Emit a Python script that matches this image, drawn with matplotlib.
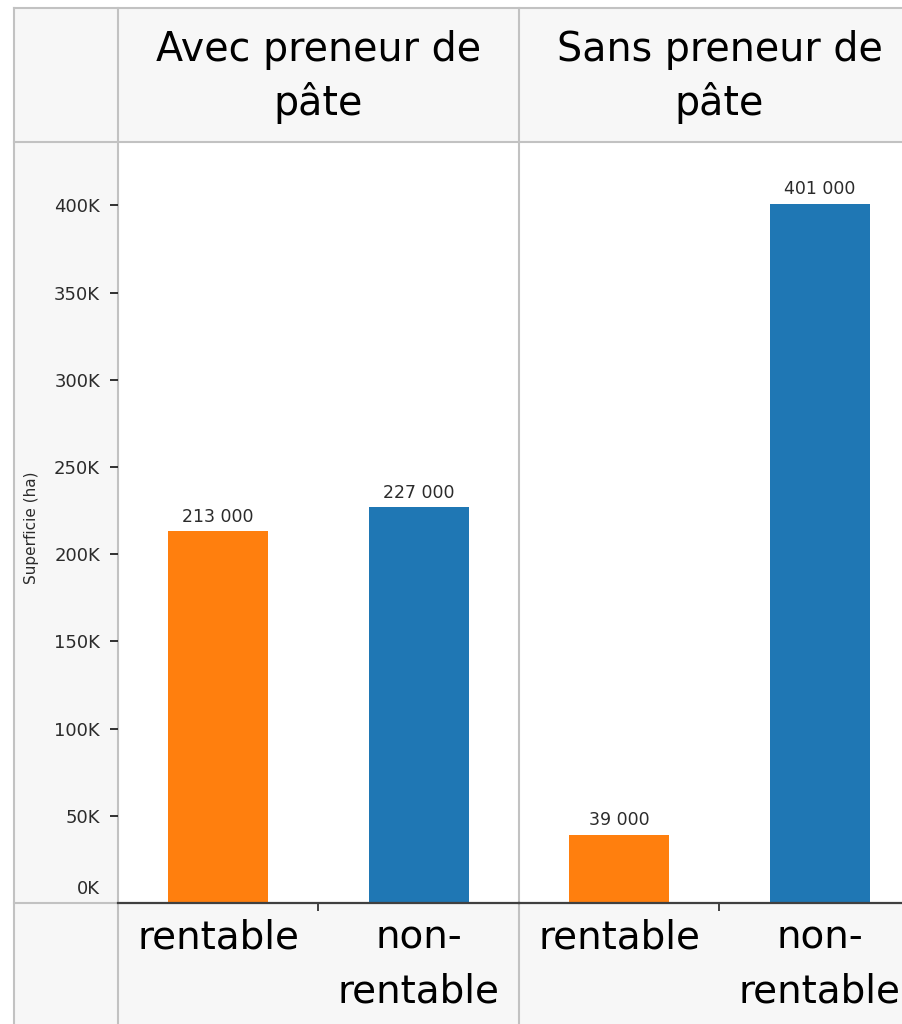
import matplotlib
matplotlib.use("Agg")
import matplotlib.pyplot as plt
from matplotlib.patches import Rectangle

plt.rcParams['font.family'] = ['DejaVu Sans']

# data
groups = ["Avec preneur de\npâte", "Sans preneur de\npâte"]
categories = ["rentable", "non-\nrentable"]
rentable = [213000, 39000]
non_rentable = [227000, 401000]
yticks = [50000, 100000, 150000, 200000, 250000, 300000, 350000, 400000]
ylabel = "Superficie (ha)"

colors = ["#ff7f0e", "#1f77b4"]
grid_col = "#c2c2c2"
cell_col = "#f7f7f7"
txt_col = "#2b2b2b"

W, H = 903, 1024
fig = plt.figure(figsize=(W / 100, H / 100), dpi=100, facecolor="white")


def px(x0, y0, x1, y1):
    # pixel box (top-left origin) -> figure fraction rect
    return [x0 / W, 1 - y1 / H, (x1 - x0) / W, (y1 - y0) / H]


# table background (cells + grid lines)
bg = fig.add_axes([0, 0, 1, 1])
bg.set_xlim(0, W)
bg.set_ylim(H, 0)
bg.axis("off")
bg.add_patch(Rectangle((14, 8), W, 134, color=cell_col, lw=0))
bg.add_patch(Rectangle((14, 142), 104, 761, color=cell_col, lw=0))
bg.add_patch(Rectangle((14, 903), W, 130, color=cell_col, lw=0))
for y in (8, 142):
    bg.plot([14, W], [y, y], color=grid_col, lw=1.5)
bg.plot([14, 118], [903, 903], color=grid_col, lw=1.5)
for x in (14, 118, 519):
    bg.plot([x, x], [8, H], color=grid_col, lw=1.5)

panel_w = 401
axes = []
for i, title in enumerate(groups):
    x0 = 118 + i * panel_w
    ax = fig.add_axes(px(x0, 142, x0 + panel_w, 903),
                      sharey=axes[0] if axes else None)
    ax.set_facecolor("none")
    vals = [rentable[i], non_rentable[i]]
    bars = ax.bar(range(len(categories)), vals, width=0.5, color=colors)
    ax.bar_label(bars, labels=[f"{v:,}".replace(",", " ") for v in vals],
                 padding=4, fontsize=12.5, color=txt_col)
    ax.set_xlim(-0.5, len(categories) - 0.5)
    ax.set_ylim(0, 436300)
    for s in ("top", "right", "left"):
        ax.spines[s].set_visible(False)
    ax.spines["bottom"].set_color("#404040")
    ax.spines["bottom"].set_linewidth(1.6)

    ax.set_xticks(range(len(categories)))
    ax.set_xticklabels(categories, fontsize=28, linespacing=1.55)
    ax.set_xticks([0.5], minor=True)
    ax.tick_params(axis="x", which="major", length=0, pad=11)
    ax.tick_params(axis="x", which="minor", length=6, width=1.3,
                   color="#333333", direction="out")

    bg.text(x0 + panel_w / 2, 77, title, ha="center", va="center",
            fontsize=28.5, linespacing=1.38, color="black")
    axes.append(ax)

ax1, ax2 = axes
ax1.set_yticks(yticks)
ax1.set_yticklabels([f"{v // 1000}K" for v in yticks])
ax1.tick_params(axis="y", length=6, width=1.3, color="#222222", pad=7,
                labelsize=13, labelcolor=txt_col)
ax1.annotate("0K", xy=(0, 0), xycoords=("axes fraction", "data"),
             xytext=(-13, 10), textcoords="offset points",
             ha="right", va="center", fontsize=13, color=txt_col)
ax2.tick_params(axis="y", left=False, labelleft=False)

fig.text(32 / W, 1 - 528 / H, ylabel, rotation=90, ha="center", va="center",
         fontsize=11, color=txt_col)

fig.savefig("out.png", dpi=100)
